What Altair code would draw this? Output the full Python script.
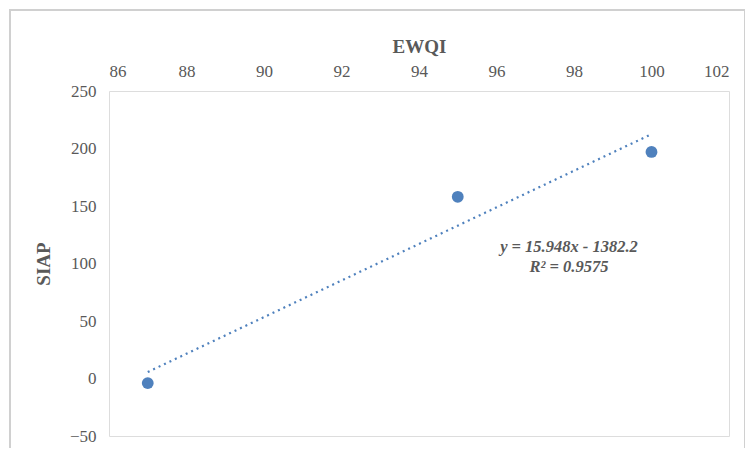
import altair as alt
import pandas as pd

ewqi = [87, 95, 100]
siap = [-4, 158, 197]
eq_lines = ["y = 15.948x - 1382.2", "R² = 0.9575"]

df = pd.DataFrame({"EWQI": ewqi, "SIAP": siap})

FONT = "Liberation Serif"
BLUE = "#4f81bd"

xs = alt.Scale(domain=[86, 102], nice=False, zero=False)
ys = alt.Scale(domain=[-50, 250], nice=False, zero=False)

x_axis = alt.Axis(orient="top", values=list(range(86, 103, 2)), ticks=False, domain=False,
                  grid=False, labelFont=FONT, labelFontSize=17, labelColor="#595959",
                  labelPadding=11, title="EWQI", titleFont=FONT, titleFontSize=19,
                  titleFontWeight="bold", titleColor="#595959", titlePadding=6)
y_axis = alt.Axis(values=list(range(-50, 251, 50)), ticks=False, domain=False, grid=False,
                  labelFont=FONT, labelFontSize=17, labelColor="#595959", labelPadding=13,
                  title="SIAP", titleFont=FONT, titleFontSize=19, titleFontWeight="bold",
                  titleColor="#595959", titlePadding=16)

base = alt.Chart(df)

frame = base.transform_filter("datum.EWQI == 87").mark_rect(
    fill="transparent", stroke="#d0d0d0", strokeWidth=2, clip=False
).encode(
    x=alt.value(-99), x2=alt.value(636), y=alt.value(-81), y2=alt.value(400)
)

trend = base.transform_regression("EWQI", "SIAP").mark_line(
    color=BLUE, strokeWidth=2.2, strokeDash=[2, 4]
).encode(
    x=alt.X("EWQI:Q", scale=xs, axis=x_axis),
    y=alt.Y("SIAP:Q", scale=ys, axis=y_axis),
)

points = base.mark_circle(color=BLUE, opacity=1, size=140).encode(
    x=alt.X("EWQI:Q", scale=xs),
    y=alt.Y("SIAP:Q", scale=ys),
)

eq_df = pd.DataFrame({"label": ["\n".join(eq_lines)]})
eq = alt.Chart(eq_df).mark_text(
    font=FONT, fontSize=16.5, fontStyle="italic", fontWeight="bold", color="#595959",
    align="center", baseline="middle", lineBreak="\n", lineHeight=20
).encode(
    text="label:N",
    x=alt.value(460),
    y=alt.value(156),
)

chart = alt.layer(frame, trend, points, eq).properties(
    width=620, height=345,
    padding={"left": 101, "top": 83, "right": 16, "bottom": 12},
    autosize=alt.AutoSizeParams(type="none"),
).configure_view(stroke="#a6a6a6", strokeWidth=1.2).configure(background="white")

chart.save("out.html", embed_options={"renderer": "svg", "actions": False})
